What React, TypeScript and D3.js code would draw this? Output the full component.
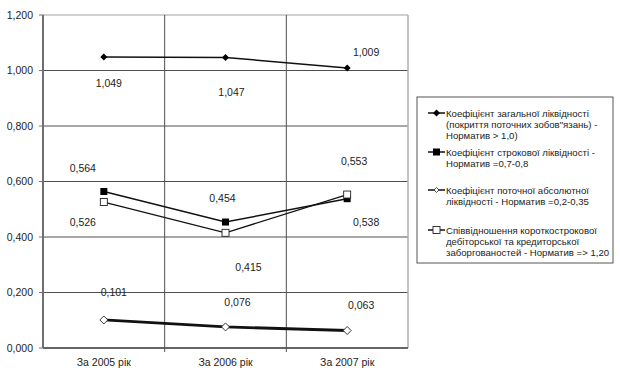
import React from "react";
import * as d3 from "d3";

const categories = ["За 2005 рік", "За 2006 рік", "За 2007 рік"];
const generalLiquidity = [1.049, 1.047, 1.009];
const termLiquidity = [0.564, 0.454, 0.538];
const absoluteLiquidity = [0.101, 0.076, 0.063];
const receivablesPayables = [0.526, 0.415, 0.553];
const yTicks = [0, 0.2, 0.4, 0.6, 0.8, 1.0, 1.2];
const legendLabels = [
  ["Коефіцієнт загальної ліквідності", "(покриття поточних зобов\"язань) -", "Норматив > 1,0)"],
  ["Коефіцієнт строкової ліквідності -", "Норматив =0,7-0,8"],
  ["Коефіцієнт поточної абсолютної", "ліквідності - Норматив =0,2-0,35"],
  ["Співвідношення короткострокової", "дебіторської та кредиторської", "заборгованостей - Норматив => 1,20"],
];

// label offsets (dx, dy of label centre) relative to point
const labelOffsets = {
  general: [[5, 26], [6, 34.5], [19, -16]],
  term: [[-21, -23.5], [-3, -24], [19, 23.3]],
  absolute: [[10, -28], [12, -25], [14, -25.5]],
  recv: [[-21, 20], [23, 34], [7, -33.5]],
};

const W = 620, H = 379;
const left = 43, right = 408, top = 15, bottom = 348;
const FONT = "'Liberation Sans', Arial, sans-serif";

const fmt = (v: number) => v.toFixed(3).replace(".", ",");

export default function App() {
  const x = d3.scaleBand<string>().domain(categories).range([left, right]);
  const y = d3.scaleLinear().domain([0, 1.2]).range([bottom, top]);
  const cx = (c: string) => (x(c) as number) + x.bandwidth() / 2;
  const line = (vals: number[]) =>
    d3.line<number>().x((_, i) => cx(categories[i])).y((v) => y(v))(vals) as string;

  const series = [
    { key: "general", vals: generalLiquidity, marker: "diamondFilled", width: 1.5 },
    { key: "term", vals: termLiquidity, marker: "squareFilled", width: 1.5 },
    { key: "absolute", vals: absoluteLiquidity, marker: "diamondOpen", width: 2.8 },
    { key: "recv", vals: receivablesPayables, marker: "squareOpen", width: 1.3 },
  ];

  const marker = (type: string, px: number, py: number, k: string) => {
    if (type === "diamondFilled")
      return <path key={k} d={`M${px},${py - 3.5}L${px + 3.5},${py}L${px},${py + 3.5}L${px - 3.5},${py}Z`} fill="#000" />;
    if (type === "diamondOpen")
      return <path key={k} d={`M${px},${py - 4}L${px + 4},${py}L${px},${py + 4}L${px - 4},${py}Z`} fill="#fff" stroke="#222" strokeWidth={0.9} />;
    if (type === "squareFilled")
      return <rect key={k} x={px - 3.5} y={py - 3.5} width={7} height={7} fill="#000" />;
    return <rect key={k} x={px - 3.5} y={py - 3.5} width={7} height={7} fill="#fff" stroke="#222" strokeWidth={0.9} />;
  };

  const legendY = [113, 152, 190, 230];

  return (
    <svg width={W} height={H} style={{ position: "absolute", left: 0, top: 0, background: "#fff" }} fontFamily={FONT}>
      <rect x={0} y={0} width={W} height={H} fill="#fff" />
      {yTicks.map((t) => (
        <line key={"g" + t} x1={left} x2={right} y1={y(t)} y2={y(t)}
          stroke={t === 1.2 ? "#c0c0c0" : "#505050"} strokeWidth={t === 1.2 ? 1.5 : 1} />
      ))}
      {categories.slice(1).map((c) => (
        <line key={"v" + c} x1={x(c) as number} x2={x(c) as number} y1={top} y2={bottom + 4} stroke="#505050" strokeWidth={1} />
      ))}
      <line x1={right} x2={right} y1={top} y2={bottom} stroke="#b0b0b0" strokeWidth={1.5} />
      <line x1={left} x2={right} y1={bottom} y2={bottom} stroke="#505050" strokeWidth={1.5} />
      <line x1={left} x2={left} y1={top} y2={bottom} stroke="#707070" strokeWidth={2} />
      {yTicks.map((t) => (
        <g key={"t" + t}>
          <line x1={left - 4} x2={left} y1={y(t)} y2={y(t)} stroke="#707070" strokeWidth={1} />
          <text x={33} y={y(t) + 3.5} textAnchor="end" fontSize={10.5} fill="#222">{fmt(t)}</text>
        </g>
      ))}
      {categories.map((c) => (
        <text key={"c" + c} x={cx(c)} y={bottom + 18} textAnchor="middle" fontSize={10.5} fill="#222">{c}</text>
      ))}
      {series.map((s) => (
        <g key={s.key}>
          <path d={line(s.vals)} fill="none" stroke="#111" strokeWidth={s.width} />
          {s.vals.map((v, i) => marker(s.marker, cx(categories[i]), y(v), s.key + i))}
          {s.vals.map((v, i) => {
            const off = (labelOffsets as any)[s.key][i];
            return (
              <text key={s.key + "l" + i} x={cx(categories[i]) + off[0]} y={y(v) + off[1] + 4}
                textAnchor="middle" fontSize={10.5} fill="#222">{fmt(v)}</text>
            );
          })}
        </g>
      ))}
      <rect x={417} y={97} width={196} height={166} fill="#fff" stroke="#555" strokeWidth={1} />
      {legendLabels.map((lines, i) => (
        <g key={"lg" + i}>
          <line x1={428} x2={445} y1={legendY[i]} y2={legendY[i]} stroke="#111" strokeWidth={1.5} />
          {series[i].marker === "diamondOpen"
            ? <path d={`M436.5,${legendY[i] - 2.5}L439,${legendY[i]}L436.5,${legendY[i] + 2.5}L434,${legendY[i]}Z`} fill="#fff" stroke="#222" strokeWidth={0.8} />
            : marker(series[i].marker, 436.5, legendY[i], "lm" + i)}
          {lines.map((ln, j) => (
            <text key={j} x={446} y={legendY[i] + 3.5 + j * 11.3} fontSize={9.6} fill="#222">{ln}</text>
          ))}
        </g>
      ))}
    </svg>
  );
}
